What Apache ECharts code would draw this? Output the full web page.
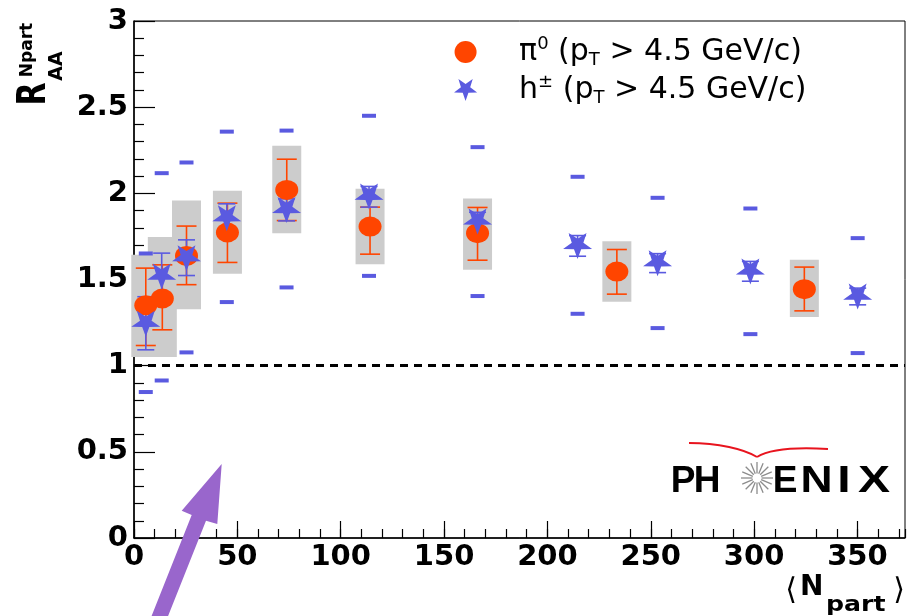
<!DOCTYPE html>
<html><head><meta charset="utf-8">
<script src="https://cdn.jsdelivr.net/npm/echarts@6/dist/echarts.min.js"></script>
<style>html,body{margin:0;padding:0;background:#fff}#c{width:914px;height:616px}</style>
</head><body><div id="c"></div>
<script>
// ---- data ----
const xTicks = [0, 50, 100, 150, 200, 250, 300, 350];
const yTicks = [0, 0.5, 1, 1.5, 2, 2.5, 3];

// pi0 (pT > 4.5 GeV/c)
const piNpart  = [5.7, 13.7, 25.4, 45.2, 73.9, 114.2, 166.2, 233.6, 324.3];
const piRaa    = [1.35, 1.39, 1.637, 1.773, 2.02, 1.807, 1.769, 1.546, 1.444];
const piStatLo = [1.117, 1.208, 1.47, 1.599, 1.842, 1.647, 1.612, 1.415, 1.318];
const piStatHi = [1.566, 1.585, 1.81, 1.943, 2.198, 1.92, 1.918, 1.674, 1.572];
const piSysLo  = [1.05, 1.05, 1.328, 1.533, 1.769, 1.589, 1.556, 1.371, 1.282];
const piSysHi  = [1.643, 1.746, 1.958, 2.015, 2.276, 2.026, 1.97, 1.722, 1.614];

// h+- (pT > 4.5 GeV/c)
const hNpart  = [5.7, 13.4, 25.4, 44.9, 73.8, 113.7, 166.2, 214.6, 253.3, 298.2, 350.1];
const hRaa    = [1.243, 1.517, 1.624, 1.856, 1.904, 1.981, 1.837, 1.695, 1.595, 1.547, 1.401];
const hStatLo = [1.092, 1.378, 1.523, 1.776, 1.84, 1.92, 1.78, 1.635, 1.54, 1.49, 1.353];
const hStatHi = [1.40, 1.653, 1.73, 1.939, 1.968, 2.04, 1.89, 1.755, 1.65, 1.605, 1.45];
const hSysLo  = [0.847, 0.914, 1.077, 1.369, 1.454, 1.521, 1.404, 1.301, 1.218, 1.183, 1.073];
const hSysHi  = [1.651, 2.117, 2.179, 2.358, 2.364, 2.45, 2.268, 2.096, 1.974, 1.912, 1.74];

const refLine = 1;
const X_MAX = 373;
const Y_MAX = 3;

// ---- styling ----
const ORANGE = '#ff4500';
const BLUE = '#5a5ae0';
const GREY = '#cccccc';
const STAR = 'path://M50 100 L38.24 66.18 L2.45 65.45 L30.98 43.82 L20.6 9.55 L50 30 L79.4 9.55 L69.02 43.82 L97.55 65.45 L61.76 66.18 Z';

const piPoints = piNpart.map((x, i) => [x, piRaa[i]]);
const piStat = piNpart.map((x, i) => [x, piStatLo[i], piStatHi[i]]);
const piSys = piNpart.map((x, i) => [x, piSysLo[i], piSysHi[i]]);
const hPoints = hNpart.map((x, i) => [x, hRaa[i]]);
const hStat = hNpart.map((x, i) => [x, hStatLo[i], hStatHi[i]]);
const hSys = hNpart.map((x, i) => [x, hSysLo[i]]).concat(hNpart.map((x, i) => [x, hSysHi[i]]));

function boxRender(params, api) {
  const x = api.value(0), lo = api.value(1), hi = api.value(2);
  const a = api.coord([x, hi]), b = api.coord([x, lo]);
  return { type: 'rect', shape: { x: a[0] - 14.5, y: a[1], width: 29, height: b[1] - a[1] },
           style: { fill: GREY } };
}
function errRender(color, half) {
  return function (params, api) {
    const x = api.value(0), lo = api.value(1), hi = api.value(2);
    const a = api.coord([x, hi]), b = api.coord([x, lo]);
    const st = { stroke: color, lineWidth: 1.6 };
    return { type: 'group', children: [
      { type: 'line', shape: { x1: a[0], y1: a[1], x2: b[0], y2: b[1] }, style: st },
      { type: 'line', shape: { x1: a[0] - half, y1: a[1], x2: a[0] + half, y2: a[1] }, style: st },
      { type: 'line', shape: { x1: b[0] - half, y1: b[1], x2: b[0] + half, y2: b[1] }, style: st }
    ] };
  };
}

// decorative graphics (logo, arrow, axis titles)
const graphics = [];
const txt = (x, y, text, font, align, extra) => Object.assign({ type: 'text', x: x, y: y, z: 100,
  style: { text: text, font: font, fill: '#000', align: align, verticalAlign: 'middle', textAlign: align, textVerticalAlign: 'middle' } }, extra || {});
// purple arrow
graphics.push({ type: 'polygon', z: 100, shape: { points: [[150, 620], [191.7, 515], [181.7, 510.7], [221.7, 464], [217.3, 524], [206, 520.7], [166.5, 620]] },
  style: { fill: '#9966cc' } });
// PHENIX logo
const logoLetters = [['P', 683, 1.0], ['H', 707, 1.0], ['E', 785, 1.0], ['N', 816.5, 1.2], ['I', 844, 1.3], ['X', 874, 1.3]];
logoLetters.forEach(([t, cx, sx]) => graphics.push(txt(cx, 482, t, 'bold 37px "Liberation Sans"', 'center', { scaleX: sx })));
for (let k = 0; k < 16; k++) {
  const ang = k * Math.PI / 8;
  graphics.push({ type: 'line', z: 100, shape: { x1: 757 + 4.5 * Math.cos(ang), y1: 478 + 4.5 * Math.sin(ang), x2: 757 + 16 * Math.cos(ang), y2: 478 + 16 * Math.sin(ang) },
    style: { stroke: '#8c8c8c', lineWidth: 1.3 } });
}
graphics.push({ type: 'bezierCurve', z: 100, shape: { x1: 689, y1: 443, cpx1: 718, cpy1: 443, cpx2: 744, cpy2: 449, x2: 757, y2: 457 },
  style: { stroke: '#e8141e', lineWidth: 2, fill: null } });
graphics.push({ type: 'bezierCurve', z: 100, shape: { x1: 757, y1: 457, cpx1: 770, cpy1: 449, cpx2: 795, cpy2: 447, x2: 828, y2: 449 },
  style: { stroke: '#e8141e', lineWidth: 2, fill: null } });
// y-axis title
const rot = Math.PI / 2;
graphics.push(txt(35, 94, 'R', 'bold 30px "DejaVu Sans"', 'center', { rotation: rot, scaleY: 1.3 }));
graphics.push(txt(57, 66, 'AA', 'bold 19px "DejaVu Sans"', 'center', { rotation: rot }));
graphics.push(txt(28, 50, 'Npart', 'bold 17px "DejaVu Sans"', 'center', { rotation: rot }));
// x-axis title
graphics.push(txt(791, 591, '⟨', '30px "DejaVu Sans"', 'center'));
graphics.push(txt(800, 588, 'N', 'bold 28px "DejaVu Sans"', 'left'));
graphics.push(txt(826, 606, 'part', 'bold 21px "DejaVu Sans"', 'left', { scaleX: 1.2 }));
graphics.push(txt(899, 591, '⟩', '30px "DejaVu Sans"', 'center'));

const labelFont = { fontFamily: 'DejaVu Sans', fontWeight: 'bold', fontSize: 29, color: '#000' };

const chart = echarts.init(document.getElementById('c'), null, { renderer: 'canvas' });
chart.setOption({
  backgroundColor: '#fff',
  animation: false,
  grid: { left: 134, right: 9, top: 21, bottom: 78, show: true, borderColor: '#000', borderWidth: 1, backgroundColor: 'transparent' },
  legend: {
    data: [{ name: 'pi0', icon: 'circle' }, { name: 'hpm', icon: STAR }],
    orient: 'vertical', left: 449, top: 30, itemWidth: 25, itemHeight: 22, itemGap: 4,
    selectedMode: false,
    formatter: n => n === 'pi0'
      ? '{g| }{a|π}{sup|0}{a| (p}{sub|T}{a| > 4.5 GeV/c)}'
      : '{g| }{a|h}{sup|±}{a| (p}{sub|T}{a| > 4.5 GeV/c)}',
    textStyle: {
      color: '#000', fontFamily: 'DejaVu Sans', fontSize: 30,
      rich: {
        g: { width: 36, fontSize: 30, lineHeight: 34 },
        a: { fontFamily: 'DejaVu Sans', fontSize: 30, lineHeight: 34, color: '#000' },
        sup: { fontFamily: 'DejaVu Sans', fontSize: 18, lineHeight: 28, verticalAlign: 'top', color: '#000' },
        sub: { fontFamily: 'DejaVu Sans', fontSize: 18, lineHeight: 8, verticalAlign: 'bottom', color: '#000' }
      }
    }
  },
  xAxis: [{
    type: 'value', min: 0, max: X_MAX, interval: 50,
    axisLine: { show: true, onZero: false, lineStyle: { color: '#000', width: 1.5 } },
    axisTick: { show: true, inside: true, length: 17, lineStyle: { color: '#000', width: 1.2 } },
    axisLabel: Object.assign({ margin: 5, showMaxLabel: false,
      formatter: v => (xTicks.indexOf(v) >= 0 ? String(v) : '') }, labelFont),
    splitLine: { show: false }
  }, {
    type: 'value', min: 0, max: X_MAX, interval: 10, position: 'bottom',
    axisLine: { show: false },
    axisTick: { show: true, inside: true, length: 9, lineStyle: { color: '#000', width: 1.2 } },
    axisLabel: { show: false }, splitLine: { show: false }
  }],
  yAxis: {
    type: 'value', min: 0, max: Y_MAX, interval: 0.5,
    axisLine: { show: true, lineStyle: { color: '#000', width: 1.5 } },
    axisTick: { show: true, inside: true, length: 21, lineStyle: { color: '#000', width: 1.2 } },
    minorTick: { show: true, splitNumber: 5, length: 10, lineStyle: { color: '#000', width: 1.2 } },
    axisLabel: Object.assign({ margin: 6,
      formatter: v => (yTicks.indexOf(v) >= 0 ? String(v) : '') }, labelFont),
    splitLine: { show: false }
  },
  graphic: graphics,
  series: [
    { name: 'piSys', type: 'custom', clip: false, renderItem: boxRender, data: piSys, silent: true,
      markLine: { silent: true, symbol: 'none', label: { show: false },
        lineStyle: { color: '#000', width: 3, type: [8, 6], opacity: 1 }, data: [{ yAxis: refLine }] } },
    { name: 'hSys', type: 'scatter', symbol: 'rect', symbolSize: [14, 4], data: hSys,
      itemStyle: { color: BLUE, opacity: 1 }, silent: true },
    { name: 'piStat', type: 'custom', renderItem: errRender(ORANGE, 10), data: piStat, silent: true },
    { name: 'pi0', type: 'scatter', symbol: 'circle', symbolSize: [23, 20], data: piPoints,
      itemStyle: { color: ORANGE, opacity: 1 } },
    { name: 'hStat', type: 'custom', renderItem: errRender(BLUE, 8.5), data: hStat, silent: true },
    { name: 'hpm', type: 'scatter', symbol: STAR, symbolSize: [29, 26], data: hPoints,
      itemStyle: { color: BLUE, opacity: 1 } }
  ]
});
</script>
</body></html>
